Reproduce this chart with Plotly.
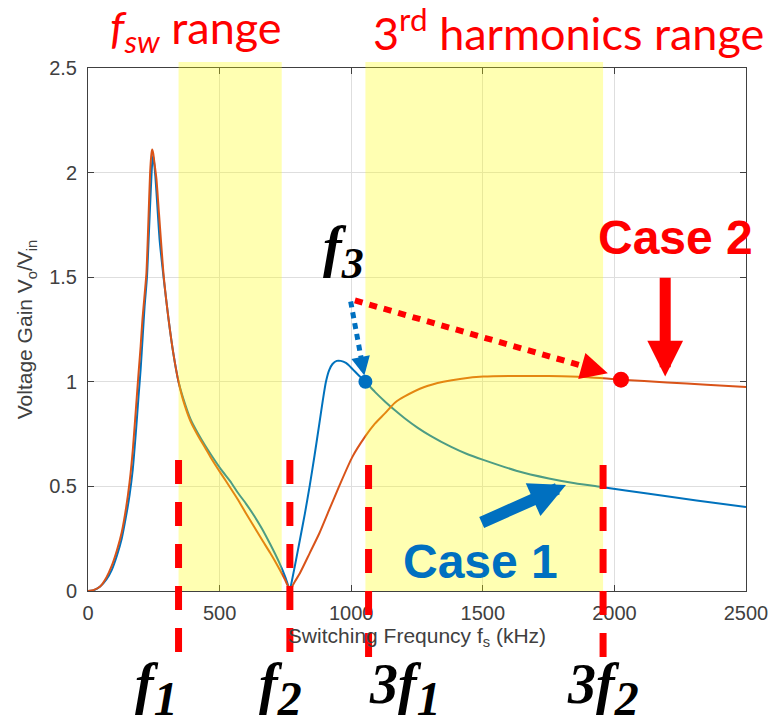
import plotly.graph_objects as go

# ---------------- data ----------------
freq_case1 = [0, 20, 45, 70, 90, 110, 128, 145, 158, 170, 182, 192, 200, 208, 215, 224,
              231, 238, 243, 247, 251, 256, 263, 272, 288, 306, 325, 344, 362, 390, 419,
              445, 468, 506, 540, 568, 600, 630, 660, 693, 725, 750, 767, 786, 805, 824,
              842, 861, 879, 892, 904, 916, 929, 945, 960, 980, 998, 1029, 1054, 1090,
              1129, 1165, 1203, 1253, 1300, 1378, 1440, 1502, 1627, 1751, 1850, 1957,
              2125, 2312, 2500]
gain_case1 = [0, 0.003, 0.02, 0.055, 0.10, 0.17, 0.25, 0.36, 0.46, 0.58, 0.76, 0.93, 1.06,
              1.22, 1.36, 1.50, 1.70, 1.90, 2.03, 2.08, 2.05, 1.98, 1.85, 1.68, 1.49, 1.30,
              1.13, 1.00, 0.92, 0.82, 0.75, 0.695, 0.65, 0.58, 0.525, 0.472, 0.418, 0.362,
              0.30, 0.222, 0.14, 0.065, 0.0, 0.12, 0.244, 0.37, 0.50, 0.65, 0.80, 0.91,
              1.0, 1.055, 1.085, 1.10, 1.10, 1.09, 1.07, 1.03, 1.0, 0.952, 0.905, 0.865,
              0.826, 0.78, 0.743, 0.69, 0.655, 0.627, 0.575, 0.538, 0.515, 0.496, 0.466,
              0.433, 0.402]

freq_case2 = [0, 20, 45, 70, 90, 110, 128, 145, 158, 170, 182, 192, 200, 207, 214, 222,
              229, 236, 241, 244, 248, 253, 260, 270, 288, 306, 325, 344, 362, 390, 419,
              445, 468, 506, 540, 568, 600, 630, 660, 693, 725, 750, 767, 786, 805, 842,
              879, 917, 954, 1004, 1054, 1090, 1129, 1166, 1203, 1278, 1350, 1420, 1502,
              1600, 1700, 1800, 1900, 2025, 2200, 2350, 2500]
gain_case2 = [0, 0.004, 0.02, 0.065, 0.12, 0.195, 0.28, 0.40, 0.52, 0.67, 0.87, 1.04, 1.17,
              1.30, 1.40, 1.52, 1.75, 2.0, 2.09, 2.11, 2.09, 2.04, 1.97, 1.80, 1.50, 1.30,
              1.13, 1.00, 0.91, 0.81, 0.74, 0.685, 0.635, 0.56, 0.495, 0.44, 0.372, 0.31,
              0.247, 0.18, 0.11, 0.05, 0.0, 0.045, 0.085, 0.18, 0.276, 0.39, 0.50, 0.64,
              0.74, 0.80, 0.85, 0.90, 0.93, 0.975, 1.0, 1.015, 1.025, 1.028, 1.028, 1.026,
              1.022, 1.01, 0.997, 0.986, 0.975]

x_ticks = [0, 500, 1000, 1500, 2000, 2500]
y_ticks = [0, 0.5, 1, 1.5, 2, 2.5]

fsw_band = [344, 736]
harmonic_band = [1054, 1957]

notch_freq = 767  # gain reaches zero here (V-shaped notch)

mark_freqs = [344, 767, 1066, 1957]
mark_label_x = [262, 732, 1205, 1955]
mark_labels = ["f", "f", "3f", "3f"]
mark_subs = ["1", "2", "1", "2"]

case1_point = [1054, 1.0]
case2_point = [2025, 1.01]

BLUE = "#0072BD"
ORANGE = "#D95319"
RED = "#FF0000"
TXTBLUE = "#0070C0"
AXC = "#404040"

fig = go.Figure()


def add_curve(fr, gn, color):
    k = fr.index(notch_freq)
    for xs, ys in ((fr[:k + 1], gn[:k + 1]), (fr[k:], gn[k:])):
        fig.add_trace(go.Scatter(x=xs, y=ys, mode="lines",
                                 line=dict(color=color, width=2, shape="spline", smoothing=0.6),
                                 showlegend=False, hoverinfo="skip"))


add_curve(freq_case1, gain_case1, BLUE)
add_curve(freq_case2, gain_case2, ORANGE)
fig.add_trace(go.Scatter(x=[case2_point[0]], y=[case2_point[1]], mode="markers",
                         marker=dict(color=RED, size=16), showlegend=False))

shapes = []
for band in (fsw_band, harmonic_band):
    shapes.append(dict(type="rect", xref="x", yref="paper", x0=band[0], x1=band[1],
                       y0=0, y1=1.0115, fillcolor="rgba(255,255,0,0.30)",
                       line=dict(width=0), layer="above"))
# Case 1 point sits on the edge of the yellow band: draw it above the band
shapes.append(dict(type="circle", xref="x", yref="y", xsizemode="pixel", ysizemode="pixel",
                   xanchor=case1_point[0], yanchor=case1_point[1],
                   x0=-7, x1=7, y0=-7, y1=7, fillcolor=TXTBLUE, line=dict(width=0),
                   layer="above"))
for i, fq in enumerate(mark_freqs):
    top = 0.2505 if i < 2 else 0.2410
    bot = -0.1224 if i < 2 else -0.1262
    shapes.append(dict(type="line", xref="x", yref="paper", x0=fq, x1=fq, y0=top, y1=bot,
                       line=dict(color=RED, width=7, dash="24px,18px"), layer="above"))

# dotted arrows from f3
f3_start_blue = [998, 1.384]
f3_tip_blue = [1050, 1.03]
f3_start_red = [1014, 1.389]
f3_tip_red = [1975, 1.041]


def along(a, b, t):
    return [a[0] + (b[0] - a[0]) * t, a[1] + (b[1] - a[1]) * t]


eb = along(f3_start_blue, f3_tip_blue, 0.87)
er = along(f3_start_red, f3_tip_red, 0.94)
shapes.append(dict(type="line", xref="x", yref="y", x0=f3_start_blue[0], y0=f3_start_blue[1],
                   x1=eb[0], y1=eb[1], line=dict(color=TXTBLUE, width=5, dash="6px,5px"),
                   layer="above"))
shapes.append(dict(type="line", xref="x", yref="y", x0=f3_start_red[0], y0=f3_start_red[1],
                   x1=er[0], y1=er[1], line=dict(color=RED, width=6, dash="8px,7px"),
                   layer="above"))

annotations = []
annotations.append(dict(x=f3_tip_blue[0], y=f3_tip_blue[1], xref="x", yref="y",
                        ax=-2.4, ay=-11.8, showarrow=True, arrowhead=2, arrowsize=0.75,
                        arrowwidth=5, arrowcolor=TXTBLUE, standoff=0, text=""))
annotations.append(dict(x=f3_tip_red[0], y=f3_tip_red[1], xref="x", yref="y",
                        ax=-17.3, ay=-4.8, showarrow=True, arrowhead=2, arrowsize=0.9,
                        arrowwidth=6, arrowcolor=RED, standoff=0, text=""))
annotations.append(dict(x=2193, y=1.025, ax=2193, ay=1.504, xref="x", yref="y",
                        axref="x", ayref="y", showarrow=True, arrowhead=2, arrowsize=0.65,
                        arrowwidth=11, arrowcolor=RED, standoff=0, text=""))
annotations.append(dict(x=1816, y=0.507, ax=1490, ay=0.324, xref="x", yref="y",
                        axref="x", ayref="y", showarrow=True, arrowhead=2, arrowsize=0.6,
                        arrowwidth=12, arrowcolor=TXTBLUE, standoff=0, text=""))
annotations.append(dict(x=2232, y=1.69, xref="x", yref="y", text="<b>Case 2</b>",
                        xanchor="center", yanchor="middle", showarrow=False,
                        font=dict(family="Liberation Sans", size=48, color=RED)))
annotations.append(dict(x=1490, y=0.14, xref="x", yref="y", text="<b>Case 1</b>",
                        xanchor="center", yanchor="middle", showarrow=False,
                        font=dict(family="Liberation Sans", size=48, color=TXTBLUE)))
annotations.append(dict(x=972, y=1.62, xref="x", yref="y",
                        text="<b><i>f<sub><span style='font-size:44px'>3</span></sub></i></b>",
                        xanchor="center", yanchor="middle", showarrow=False,
                        font=dict(family="Liberation Serif", size=56, color="black")))
for lx, lab, sub in zip(mark_label_x, mark_labels, mark_subs):
    annotations.append(dict(x=lx, y=-0.188, xref="x", yref="paper",
                            text="<b><i>" + lab + "<sub><span style='font-size:48px'>" + sub
                                 + "</span></sub></i></b>",
                            xanchor="center", yanchor="middle", showarrow=False,
                            font=dict(family="Liberation Serif", size=56, color="black")))
annotations.append(dict(x=0.1644, y=1.073, xref="paper", yref="paper",
                        text="<i>f<sub>sw</sub></i> range", showarrow=False,
                        xanchor="center", yanchor="middle",
                        font=dict(family="Lato", size=45, color=RED)))
annotations.append(dict(x=0.731, y=1.073, xref="paper", yref="paper",
                        text="3<sup>rd</sup> harmonics range", showarrow=False,
                        xanchor="center", yanchor="middle",
                        font=dict(family="Lato", size=45, color=RED)))

fig.update_layout(
    width=780, height=724,
    margin=dict(l=88, r=23, t=68, b=133),
    paper_bgcolor="white", plot_bgcolor="white",
    shapes=shapes, annotations=annotations,
    font=dict(family="Liberation Sans", color=AXC),
    xaxis=dict(range=[0, 2500], tickvals=x_ticks, ticktext=[str(v) for v in x_ticks],
               showgrid=True, gridcolor="#dedede", gridwidth=1, zeroline=False,
               showline=True, linecolor=AXC, linewidth=1, mirror="ticks",
               ticks="inside", ticklen=6, tickcolor=AXC,
               tickfont=dict(size=20, color=AXC), ticklabelstandoff=4,
               title=dict(text="Switching Frequncy f<sub>s</sub> (kHz)",
                          font=dict(size=21, color=AXC), standoff=3)),
    yaxis=dict(range=[0, 2.5], tickvals=y_ticks, ticktext=["0", "0.5", "1", "1.5", "2", "2.5"],
               showgrid=True, gridcolor="#dedede", gridwidth=1, zeroline=False,
               showline=True, linecolor=AXC, linewidth=1, mirror="ticks",
               ticks="inside", ticklen=6, tickcolor=AXC,
               tickfont=dict(size=20, color=AXC), ticklabelstandoff=6,
               title=dict(text="Voltage Gain V<sub>o</sub>/V<sub>in</sub>",
                          font=dict(size=21, color=AXC), standoff=10)),
)

fig.write_html("out.html")
